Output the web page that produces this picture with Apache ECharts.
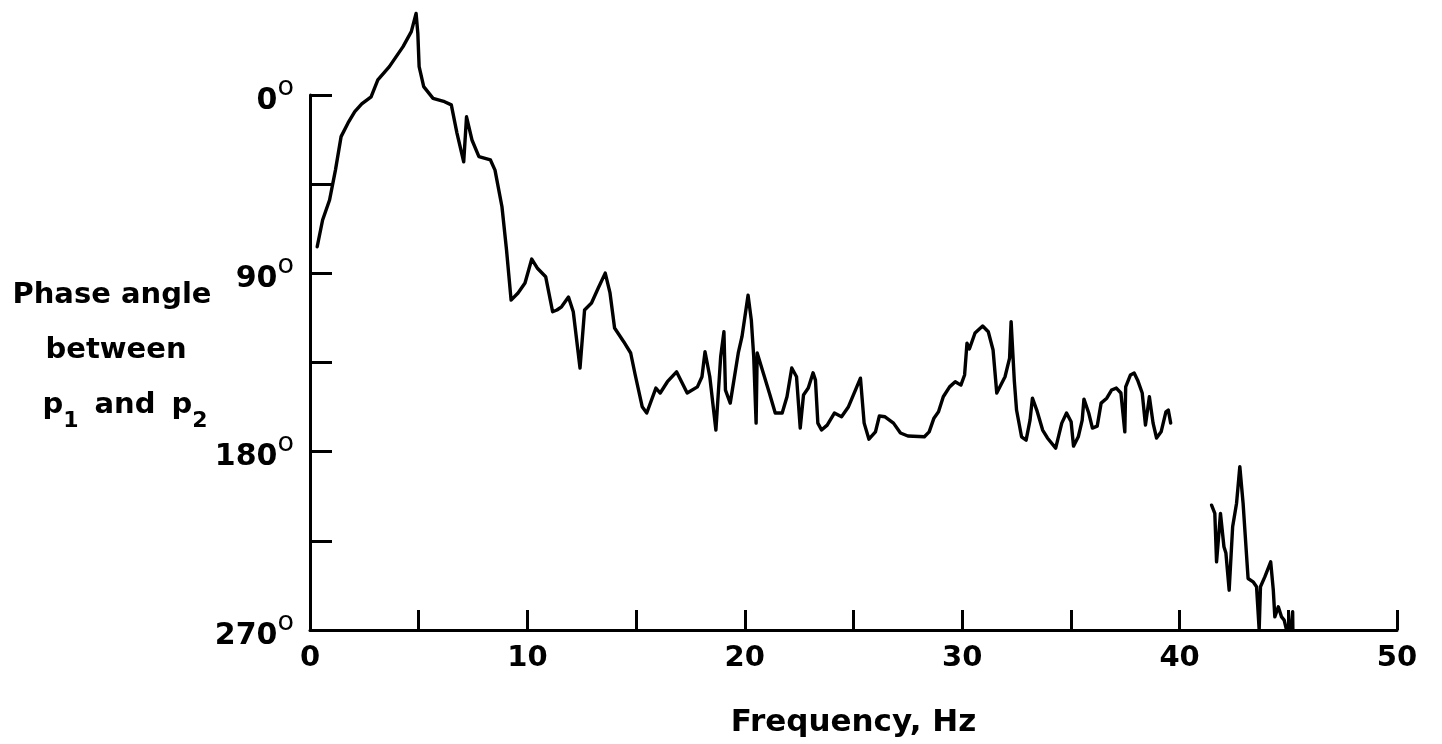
<!DOCTYPE html>
<html><head><meta charset="utf-8">
<script src="https://cdn.jsdelivr.net/npm/echarts@6/dist/echarts.min.js"></script>
<style>html,body{margin:0;padding:0;background:#fff}#c{width:1442px;height:744px}</style>
</head><body><div id="c"></div>
<script>
// Frequency (Hz) and phase angle (deg) — first continuous trace
const freq1 = [0.33,0.58,0.90,1.17,1.43,1.75,2.06,2.38,2.81,3.12,
3.65,4.28,4.66,4.88,4.96,5.02,5.23,5.66,6.19,6.50,
6.76,7.07,7.20,7.45,7.77,8.30,8.51,8.83,9.04,9.25,
9.57,9.89,10.20,10.45,10.84,11.16,11.36,11.57,11.89,12.11,
12.42,12.63,12.95,13.26,13.58,13.80,14.01,14.43,14.75,14.96,
15.28,15.49,15.91,16.11,16.44,16.86,17.35,17.82,18.03,18.17,
18.39,18.67,18.89,19.04,19.11,19.33,19.70,19.87,20.15,20.30,
20.41,20.52,20.57,20.85,21.13,21.40,21.72,21.94,22.16,22.38,
22.55,22.70,22.92,23.14,23.25,23.36,23.53,23.79,24.12,24.45,
24.77,25.32,25.49,25.71,26.01,26.19,26.45,26.84,27.16,27.50,
28.26,28.48,28.70,28.91,29.13,29.42,29.68,29.94,30.11,30.22,
30.33,30.59,30.94,31.20,31.42,31.59,31.97,32.18,32.25,32.40,
32.50,32.73,32.94,33.12,33.23,33.43,33.70,33.92,34.30,34.58,
34.80,35.01,35.12,35.34,35.52,35.60,35.82,35.99,36.21,36.39,
36.65,36.87,37.09,37.30,37.48,37.52,37.74,37.91,38.07,38.28,
38.43,38.61,38.78,38.94,39.15,39.37,39.48,39.59];
const phase1 = [76.6,63.1,53.0,37.9,21.0,14.1,8.4,4.5,0.9,-7.6,
-14.3,-24.4,-32.0,-41.2,-31.1,-14.3,-4.2,1.7,3.4,5.0,
19.2,33.7,11.0,22.7,31.1,32.8,37.9,56.4,78.2,103.5,
99.9,94.9,82.8,87.3,91.7,109.4,108.5,106.9,102.0,109.4,
137.8,108.5,105.0,97.4,89.9,99.9,117.6,124.5,130.2,141.3,
157.3,160.5,147.9,150.4,144.7,139.7,150.4,147.3,142.2,129.6,
142.2,169.1,132.1,119.5,148.9,155.5,130.2,122.0,101.0,113.6,
132.1,165.6,130.2,140.3,150.4,160.5,160.5,152.3,137.8,142.2,
168.1,151.4,147.9,140.2,143.9,165.6,169.1,166.6,160.5,162.4,
157.3,142.9,165.6,173.7,170.0,162.0,162.4,165.6,170.6,172.1,
172.5,170.0,163.1,159.9,152.3,147.3,144.7,146.4,141.3,125.2,
128.2,120.1,116.6,119.5,128.7,150.4,142.2,132.8,114.4,144.7,
159.0,172.5,174.2,164.1,153.0,159.0,169.1,173.1,178.2,165.6,
160.5,164.9,177.2,172.5,164.1,153.5,160.5,168.1,167.1,155.5,
153.0,148.9,147.9,150.4,170.0,147.3,141.3,140.3,143.9,150.4,
166.6,152.3,165.6,173.1,170.0,159.9,159.0,165.6];
// Second trace (above 40 Hz)
const freq2 = [41.47,41.62,41.70,41.77,41.88,42.04,42.13,42.28,42.44,42.62,
42.77,42.92,43.15,43.38,43.54,43.66,43.72,43.92,44.19,44.31,
44.38,44.54,44.69,44.81,44.92,45.11,45.20,45.21];
const phase2 = [207.0,211.2,235.6,226.1,211.2,228.0,231.2,249.9,217.9,206.0,
187.6,206.0,244.0,245.7,248.2,270,248.2,243.2,235.6,249.9,
263.4,258.3,263.4,265.0,270,270,260.8,270];
// Axis ticks
const xLabelled = [0,10,20,30,40,50];
const yLabelled = [0,90,180,270];

const FONT = '"DejaVu Sans", "Liberation Sans", Arial, sans-serif';
const zip = (a,b) => a.map((v,i)=>[v,b[i]]);
const tStyle = {fontFamily:FONT, fontWeight:'bold', fontSize:29, lineHeight:55, fill:'#000', color:'#000'};
const sStyle = {fontFamily:FONT, fontWeight:'bold', fontSize:22, lineHeight:4, verticalAlign:'bottom', fill:'#000', color:'#000'};

const chart = echarts.init(document.getElementById('c'), null, {renderer:'canvas'});
chart.setOption({
  backgroundColor:'#ffffff',
  animation:false,
  grid:{left:310, right:45, top:95, bottom:114, containLabel:false, outerBoundsMode:'none'},
  xAxis:{
    type:'value', min:0, max:50, interval:5,
    name:'Frequency, Hz', nameLocation:'middle', nameGap:77,
    nameTextStyle:{color:'#000', fontFamily:FONT, fontWeight:'bold', fontSize:31},
    axisLine:{show:true, onZero:false, lineStyle:{color:'#000', width:3}},
    axisTick:{show:true, inside:true, length:20, lineStyle:{color:'#000', width:3}},
    axisLabel:{color:'#000', fontFamily:FONT, fontWeight:'bold', fontSize:29, margin:14,
      formatter:v => xLabelled.includes(v) ? String(v) : ''},
    splitLine:{show:false}
  },
  yAxis:{
    type:'value', min:0, max:270, interval:45, inverse:true,
    axisLine:{show:true, onZero:false, lineStyle:{color:'#000', width:3}},
    axisTick:{show:true, inside:true, length:22, lineStyle:{color:'#000', width:3}},
    axisLabel:{color:'#000', margin:16,
      formatter:v => yLabelled.includes(v) ? '{h| }{n|' + v + '}{d|o}' : '',
      rich:{
        h:{fontSize:1, lineHeight:42},
        n:{fontFamily:FONT, fontWeight:'bold', fontSize:30, lineHeight:30, verticalAlign:'bottom', color:'#000'},
        d:{fontFamily:FONT, fontWeight:'normal', fontSize:27, lineHeight:22, verticalAlign:'top', color:'#000'}
      }},
    splitLine:{show:false}
  },
  graphic:[
    {type:'text', x:112, y:295, style:{text:'{t|Phase angle}', align:'center', verticalAlign:'middle', rich:{t:tStyle}}},
    {type:'text', x:116, y:350, style:{text:'{t|between}', align:'center', verticalAlign:'middle', rich:{t:tStyle}}},
    {type:'text', x:125, y:405, style:{
      text:'{t|p}{s|1}{g| }{t|and}{g| }{t|p}{s|2}', align:'center', verticalAlign:'middle',
      rich:{t:tStyle, s:sStyle, g:{fontSize:10, width:16, lineHeight:55}}}}
  ],
  series:[
    {type:'line', data:zip(freq1,phase1), clip:false, symbol:'none', smooth:false,
     lineStyle:{color:'#000', width:3.4, join:'round', cap:'round'}},
    {type:'line', data:zip(freq2,phase2), clip:false, symbol:'none', smooth:false,
     lineStyle:{color:'#000', width:3.4, join:'round', cap:'round'}}
  ]
});
</script>
</body></html>
